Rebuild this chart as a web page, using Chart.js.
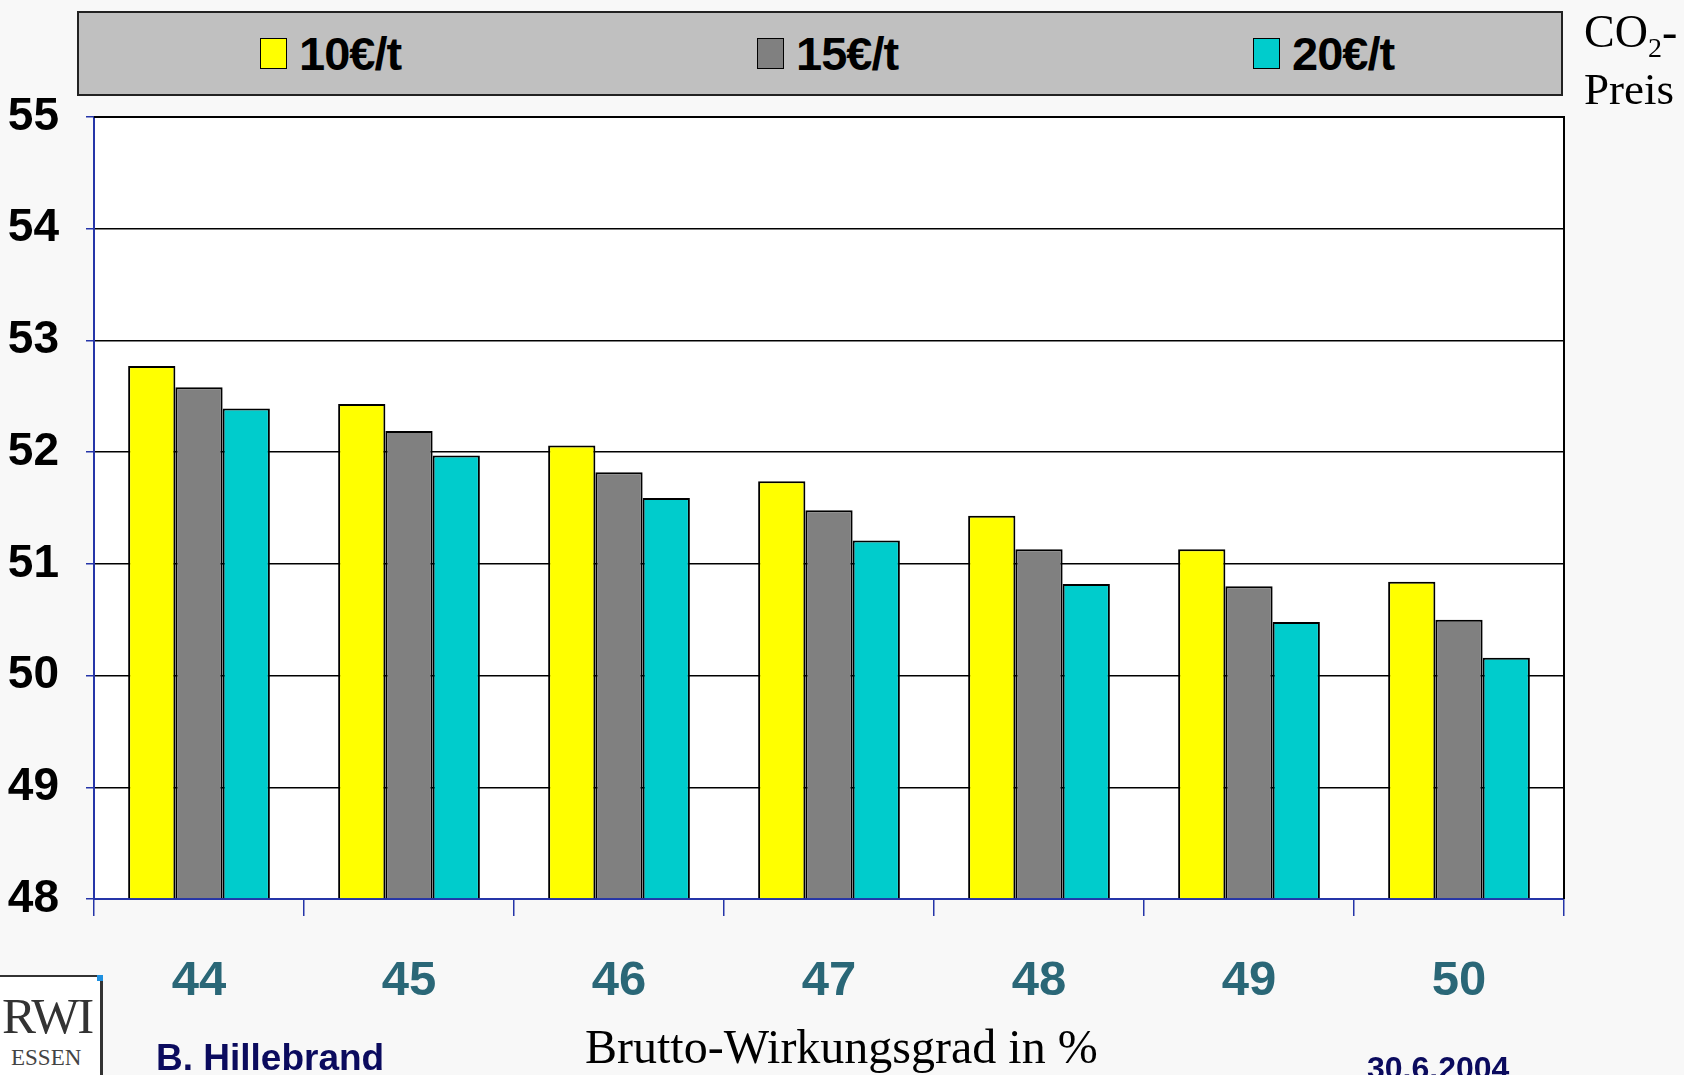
<!DOCTYPE html>
<html>
<head>
<meta charset="utf-8">
<script src="https://cdn.jsdelivr.net/npm/chart.js@4/dist/chart.umd.min.js"></script>
<style>
  body { margin: 0; background: #f8f8f8; width: 1684px; height: 1075px; overflow: hidden; position: relative; }
  canvas { position: absolute; left: 0; top: 0; }
  .narrow { font-family: 'Liberation Sans Narrow', 'Arial Narrow', 'Liberation Sans', sans-serif; font-weight: bold; }
  #legend { position: absolute; left: 77px; top: 11px; width: 1482px; height: 81px; background: #c0c0c0; border: 2px solid #222; }
  .item { position: absolute; top: 0; height: 81px; display: flex; align-items: center; font-size: 47px; color: #000; letter-spacing: -1px; }
  .sw { width: 25px; height: 29px; border: 1.5px solid #000; margin-right: 12px; }
  .serif { font-family: 'Liberation Serif', 'Times New Roman', serif; position: absolute; color: #000; }
  #logo { position: absolute; left: 0; top: 975px; width: 100px; height: 100px; background: #fff; border-top: 2px solid #333; border-right: 3px solid #333; }
  #logo .corner { position: absolute; right: -3px; top: -2px; width: 6px; height: 6px; background: #1e90e0; }
  .foot { position: absolute; font-family: 'Liberation Sans', Arial, sans-serif; font-weight: bold; color: #0b0b5e; }
</style>
</head>
<body>
<canvas id="mycanvas" width="1684" height="1075"></canvas>
<div id="legend"></div>
<div class="serif" style="left:1584px; top:7px; font-size:46px; line-height:50px;">CO<sub style="font-size:28px; vertical-align:-10px;">2</sub>-</div>
<div class="serif" style="left:1584px; top:64px; font-size:45px; line-height:50px;">Preis</div>
<div class="serif" style="left:585px; top:1020px; font-size:48px; line-height:54px;">Brutto-Wirkungsgrad in %</div>
<div id="logo">
  <div class="corner"></div>
  <div class="serif" style="left:2px; top:10px; font-size:51px; color:#333; letter-spacing:-2px;">RWI</div>
  <div class="serif" style="left:11px; top:68px; font-size:23px; color:#444;">ESSEN</div>
</div>
<div class="foot" style="left:156px; top:1037px; font-size:37px;">B. Hillebrand</div>
<div class="foot" style="left:1367px; top:1050px; font-size:32px;">30.6.2004</div>
<script>
// values
var categories = ['44', '45', '46', '47', '48', '49', '50'];
var preis10 = [52.77, 52.43, 52.06, 51.74, 51.43, 51.13, 50.84];
var preis15 = [52.58, 52.19, 51.82, 51.48, 51.13, 50.80, 50.50];
var preis20 = [52.39, 51.97, 51.59, 51.21, 50.82, 50.48, 50.16];
var seriesLabels = ['10€/t', '15€/t', '20€/t'];
var seriesColors = ['#ffff00', '#808080', '#00cccc'];
var yMin = 48, yMax = 55;

// legend in the grey box
var legendX = [181, 678, 1174];
var legend = document.getElementById('legend');
seriesLabels.forEach(function(lab, i){
    var it = document.createElement('div');
    it.className = 'item narrow';
    it.style.left = legendX[i] + 'px';
    it.innerHTML = '<div class="sw" style="background:' + seriesColors[i] + '"></div>' + lab;
    legend.appendChild(it);
});

var narrowFont = "'Liberation Sans Narrow', 'Arial Narrow', 'Liberation Sans', sans-serif";
var blue = '#2535a8';

var plotFrame = {
    id: 'plotFrame',
    beforeDraw: function(chart){
        var a = chart.chartArea, c = chart.ctx;
        c.save();
        c.fillStyle = '#fff';
        c.fillRect(a.left, a.top, a.right - a.left, a.bottom - a.top);
        c.restore();
    },
    afterDraw: function(chart){
        var a = chart.chartArea, c = chart.ctx;
        c.save();
        c.strokeStyle = '#000';
        c.lineWidth = 2;
        c.beginPath();
        c.moveTo(a.left, a.top);
        c.lineTo(a.right, a.top);
        c.lineTo(a.right, a.bottom);
        c.stroke();
        c.restore();
    }
};

var datasets = [preis10, preis15, preis20].map(function(vals, i){
    return {
        label: seriesLabels[i],
        data: vals,
        base: yMin,
        backgroundColor: seriesColors[i],
        borderColor: '#000',
        borderWidth: 2,
        borderSkipped: 'bottom',
        barPercentage: 1,
        categoryPercentage: 0.675
    };
});

var ctx = document.getElementById('mycanvas');
var barGraph = new Chart(ctx, {
    type: 'bar',
    data: { labels: categories, datasets: datasets },
    plugins: [plotFrame],
    options: {
        responsive: false,
        animation: false,
        layout: { padding: { left: 0, top: 117, right: 120, bottom: 0 } },
        plugins: { legend: { display: false }, tooltip: { enabled: false } },
        scales: {
            x: {
                afterFit: function(s){ s.height = 176; },
                grid: { display: true, drawOnChartArea: false, offset: true, tickLength: 17, color: blue, lineWidth: 1.5 },
                border: { color: blue, width: 2 },
                ticks: { padding: 36, color: '#2a6777', font: { family: narrowFont, size: 49, weight: 'bold' } }
            },
            y: {
                min: yMin,
                max: yMax,
                afterFit: function(s){ s.width = 94; },
                grid: { color: '#000', lineWidth: 1.5, tickLength: 8, tickColor: blue },
                border: { color: blue, width: 2 },
                ticks: { stepSize: 1, padding: 27, color: '#000', font: { family: narrowFont, size: 46, weight: 'bold' } }
            }
        }
    }
});
</script>
</body>
</html>
